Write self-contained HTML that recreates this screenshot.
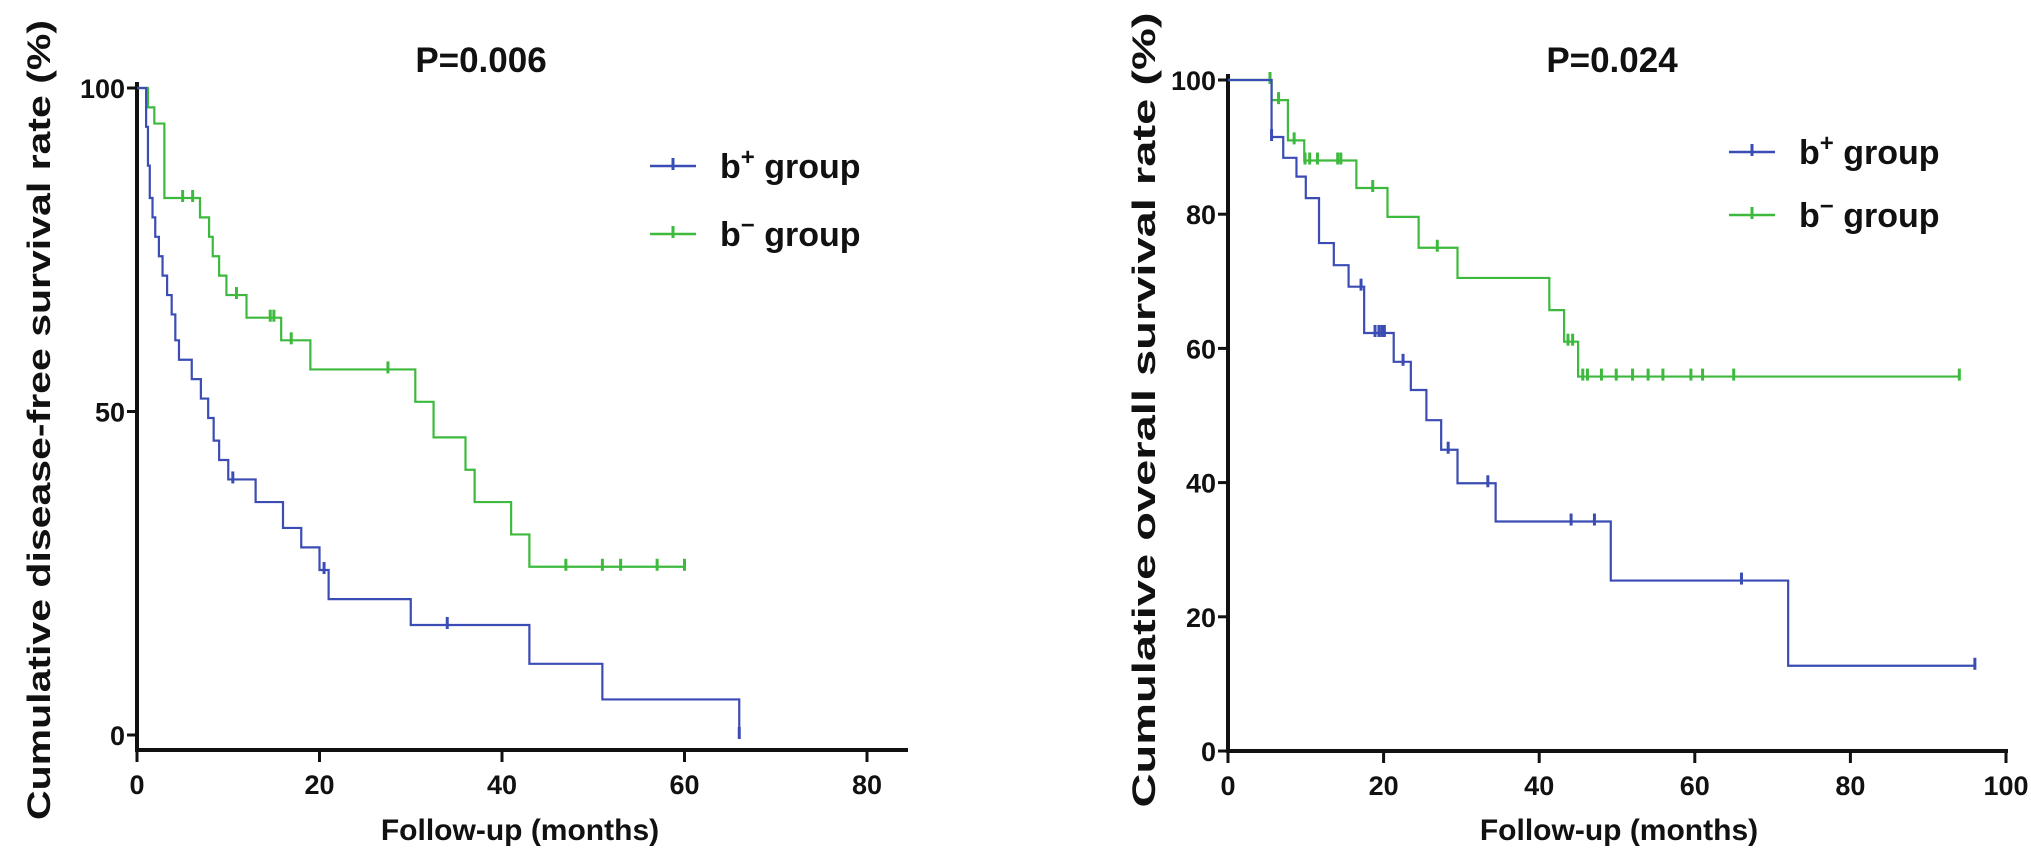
<!DOCTYPE html>
<html><head><meta charset="utf-8"><style>
html,body{margin:0;padding:0;background:#fff;}
svg{display:block;font-family:"Liberation Sans",Arial,sans-serif;font-weight:bold;}
</style></head><body>
<svg id="fig" width="2031" height="861" viewBox="0 0 2031 861" xmlns="http://www.w3.org/2000/svg"></svg>
<script>
// ---- Left chart data (disease-free survival) ----
const dfsPosTimes = [1.0,1.2,1.4,1.7,2.0,2.4,2.8,3.3,3.8,4.2,4.6,6,7,7.8,8.4,9,10,13,16,18,20,21,30,43,51,66];
const dfsPosSurv  = [94,88,83,80,77,74,71,68,65,61,58,55,52,49,45.5,42.5,39.5,36,32,29,25.5,21,17,11,5.5,0];
const dfsPosCens  = [10.5,20.5,34,66];
const dfsNegTimes = [1.2,1.9,3.0,6.9,7.9,8.3,9,9.8,12,15.8,19,30.5,32.5,36,37,41,43];
const dfsNegSurv  = [97,94.5,83,80,77,74,71,68,64.5,61,56.5,51.5,46,41,36,31,26];
const dfsNegCens  = [5,6.1,10.9,14.6,15,16.9,27.5,47,51,53,57,60];
const dfsNegEnd = 60, dfsPosEnd = 66;
const dfsXTicks = [0,20,40,60,80];
const dfsYTicks = [0,50,100];
// ---- Right chart data (overall survival) ----
const osPosTimes = [5.6,7.1,8.8,10,11.7,13.6,15.5,17.5,21.3,23.5,25.5,27.4,29.5,34.4,49.2,72];
const osPosSurv  = [91.5,88.4,85.6,82.4,75.7,72.4,69.2,62.3,58,53.8,49.3,44.9,39.9,34.2,25.4,12.7];
const osPosCens  = [5.6,17.1,18.9,19.4,19.8,20.1,22.5,28.3,33.4,44.1,47.1,66,96];
const osNegTimes = [5.6,7.7,9.8,16.5,20.5,24.5,29.5,41.3,43.2,45];
const osNegSurv  = [97,91,88,83.9,79.6,75,70.5,65.7,61,55.8];
const osNegCens  = [5.4,6.5,8.5,9.9,10.5,11.5,14.1,14.5,18.6,26.9,43.7,44.3,45.6,46.2,48,49.9,52,54,55.9,59.5,61,65,94];
const osNegEnd = 94, osPosEnd = 96;
const osXTicks = [0,20,40,60,80,100];
const osYTicks = [0,20,40,60,80,100];

const NS="http://www.w3.org/2000/svg";
const svg=document.getElementById('fig');
function mk(tag,attrs,parent){const e=document.createElementNS(NS,tag);for(const k in attrs)e.setAttribute(k,attrs[k]);(parent||svg).appendChild(e);return e;}
const BLUE="#3b4cb4", GREEN="#3dba3d";

function chart(cfg){
  const g=mk('g',{});
  
  
  const sx=t=>cfg.x0+t*(cfg.x1-cfg.x0)/cfg.xmax;
  const sy=v=>cfg.y0+(100-v)*(cfg.yb-cfg.y0)/100;
  const ya=mk('line',{x1:cfg.x0,y1:sy(100)-6,x2:cfg.x0,y2:cfg.axY,stroke:'#111','stroke-width':4},g);
  
  
  const xa=mk('line',{x1:cfg.x0-2,y1:cfg.axY,x2:cfg.axEnd,y2:cfg.axY,stroke:'#111','stroke-width':4},g);
  
  
  cfg.yTicks.forEach(v=>{
    const y=sy(v);
    mk('line',{x1:cfg.x0-10,y1:y,x2:cfg.x0,y2:y,stroke:'#111','stroke-width':3},g);
    const t=mk('text',{x:cfg.x0-12,y:y+10,'text-anchor':'end','font-size':27,fill:'#111'},g);
    t.textContent=v;
    
    
  });
  cfg.xTicks.forEach(v=>{
    const x=sx(v);
    mk('line',{x1:x,y1:cfg.axY,x2:x,y2:cfg.axY+12,stroke:'#111','stroke-width':3},g);
    const t=mk('text',{x:x,y:cfg.axY+44,'text-anchor':'middle','font-size':27,fill:'#111'},g);
    t.textContent=v;
    
    
  });
  function series(times,surv,cens,end,color,name){
    let d='M'+sx(0)+','+sy(100);
    times.forEach((t,i)=>{d+=' H'+sx(t)+' V'+sy(surv[i]);});
    d+=' H'+sx(Math.max(end,times[times.length-1]));
    const p=mk('path',{d:d,fill:'none',stroke:color,'stroke-width':2.2},g);
    
    
    cens.forEach(c=>{
      let v=100;times.forEach((t,i)=>{if(t<=c)v=surv[i];});
      const m=mk('line',{x1:sx(c),y1:sy(v)-8,x2:sx(c),y2:sy(v)+4,stroke:color,'stroke-width':3},g);
      
      
    });
  }
  series(cfg.negT,cfg.negS,cfg.negC,cfg.negEnd,GREEN,'b-minus');
  series(cfg.posT,cfg.posS,cfg.posC,cfg.posEnd,BLUE,'b-plus');
  const yt=mk('text',{x:0,y:0,transform:`translate(${cfg.ytX},${cfg.ytY}) rotate(-90)`,'text-anchor':'middle','font-size':32,fill:'#111',textLength:cfg.ytLen,lengthAdjust:'spacingAndGlyphs'},g);
  yt.textContent=cfg.ytitle;
  
  
  const xt=mk('text',{x:cfg.xtX,y:840,'text-anchor':'middle','font-size':30,fill:'#111'},g);
  xt.textContent='Follow-up (months)';
  
  
  const pt=mk('text',{x:cfg.pX,y:72,'text-anchor':'middle','font-size':35,fill:'#111'},g);
  pt.textContent=cfg.p;
  
  
  [[BLUE,'+','b-plus',cfg.lgY[0]],[GREEN,'-','b-minus',cfg.lgY[1]]].forEach(([c,sgn,nm,y])=>{
    const lg=mk('g',{},g);
    
    
    mk('line',{x1:cfg.lgX,y1:y,x2:cfg.lgX+46,y2:y,stroke:c,'stroke-width':2.5},lg);
    mk('line',{x1:cfg.lgX+23,y1:y-8,x2:cfg.lgX+23,y2:y+4,stroke:c,'stroke-width':3},lg);
    const t=mk('text',{x:cfg.lgX+70,y:y+12,'font-size':34,fill:'#111'},lg);
    const s1=mk('tspan',{},t);s1.textContent='b';
    const s2=mk('tspan',{dy:-13,'font-size':24},t);s2.textContent=sgn==='+'?'+':'\u2212';
    const s3=mk('tspan',{dy:13},t);s3.textContent=sgn==='+'?' group':'  group';
  });
}
chart({name:'dfs-chart',x0:137,x1:867,xmax:80,y0:88,yb:735,axY:750,axEnd:908,
  xTicks:dfsXTicks,yTicks:dfsYTicks,posT:dfsPosTimes,posS:dfsPosSurv,posC:dfsPosCens,posEnd:dfsPosEnd,
  negT:dfsNegTimes,negS:dfsNegSurv,negC:dfsNegCens,negEnd:dfsNegEnd,
  ytitle:'Cumulative disease-free survival rate (%)',ytX:50,ytY:420,ytLen:800,xtX:520,
  p:'P=0.006',pX:481,lgX:650,lgY:[166,234]});
chart({name:'os-chart',x0:1228,x1:2006,xmax:100,y0:80,yb:751,axY:751,axEnd:2008,
  xTicks:osXTicks,yTicks:osYTicks,posT:osPosTimes,posS:osPosSurv,posC:osPosCens,posEnd:osPosEnd,
  negT:osNegTimes,negS:osNegSurv,negC:osNegCens,negEnd:osNegEnd,
  ytitle:'Cumulative overall survival rate (%)',ytX:1155,ytY:410,ytLen:795,xtX:1619,
  p:'P=0.024',pX:1612,lgX:1729,lgY:[152,215]});
</script>
</body></html>
